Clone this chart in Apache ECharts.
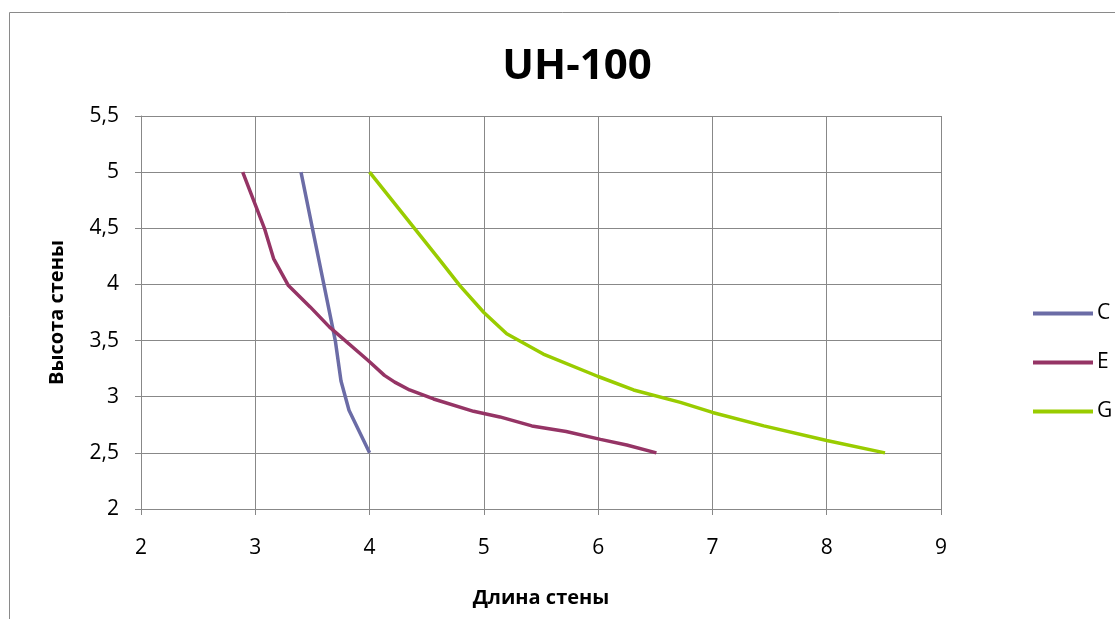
<!DOCTYPE html>
<html>
<head>
<meta charset="utf-8">
<script src="https://cdn.jsdelivr.net/npm/echarts@6/dist/echarts.min.js"></script>
<style>
  html, body { margin: 0; padding: 0; background: #fff; }
  #chart { width: 1115px; height: 619px; }
</style>
</head>
<body>
<div id="chart"></div>
<script>
// Wall length (x) against wall height (y) for three variants
const seriesNames = ['C', 'E', 'G'];
const seriesColors = ['#6B6CA6', '#953465', '#99CC00'];

const lengthC = [3.4, 3.5, 3.6, 3.7, 3.75, 3.82, 4.0];
const heightC = [5.0, 4.5, 4.0, 3.5, 3.14, 2.88, 2.5];

const lengthE = [2.89, 3.08, 3.16, 3.29, 3.48, 3.65, 3.99, 4.13, 4.22, 4.35, 4.56, 4.91, 5.14, 5.42, 5.72, 6.02, 6.25, 6.51];
const heightE = [5.0, 4.5, 4.23, 3.99, 3.8, 3.62, 3.32, 3.19, 3.13, 3.06, 2.98, 2.87, 2.82, 2.74, 2.69, 2.62, 2.57, 2.5];

const lengthG = [4.0, 4.4, 4.62, 4.79, 5.0, 5.2, 5.52, 6.0, 6.31, 6.72, 7.0, 7.45, 8.0, 8.51];
const heightG = [5.0, 4.49, 4.21, 3.99, 3.75, 3.56, 3.38, 3.18, 3.06, 2.95, 2.86, 2.74, 2.61, 2.5];

const titleText = 'UH-100';
const xAxisTitle = 'Длина стены';
const yAxisTitle = 'Высота стены';

const FONT = '"Open Sans", "Liberation Sans", sans-serif';
const GRID_COLOR = '#888888';

function pairs(xs, ys) {
  return xs.map((x, i) => [x, ys[i]]);
}

const seriesData = [pairs(lengthC, heightC), pairs(lengthE, heightE), pairs(lengthG, heightG)];

const chart = echarts.init(document.getElementById('chart'), null, { renderer: 'canvas' });

chart.setOption({
  animation: false,
  backgroundColor: '#ffffff',
  textStyle: { fontFamily: FONT },
  graphic: [{
    type: 'rect',
    left: 7, top: 10,
    shape: { x: 0.5, y: 0.5, width: 1200, height: 700 },
    style: { fill: 'none', stroke: '#8a8a8a', lineWidth: 1 },
    silent: true,
    z: -10
  }],
  title: {
    text: titleText,
    left: 572,
    textAlign: 'center',
    top: 41,
    textStyle: { fontFamily: FONT, fontWeight: 'bold', fontSize: 42, color: '#000' }
  },
  legend: {
    orient: 'vertical',
    left: 1033,
    top: 303,
    padding: 0,
    icon: 'rect',
    itemWidth: 60,
    itemHeight: 4,
    itemGap: 28,
    itemStyle: { borderWidth: 0 },
    data: seriesNames,
    textStyle: { fontFamily: FONT, fontSize: 21, color: '#000', lineHeight: 21, padding: [0, 0, 0, -1] }
  },
  grid: { left: 141, right: 174, top: 116, bottom: 110, containLabel: false },
  xAxis: {
    type: 'value',
    min: 2, max: 9, interval: 1,
    name: xAxisTitle,
    nameLocation: 'middle',
    nameGap: 79,
    nameTextStyle: { fontFamily: FONT, fontWeight: 'bold', fontSize: 20, color: '#000' },
    axisLine: { show: true, lineStyle: { color: GRID_COLOR, width: 1 } },
    axisTick: { show: true, length: 6, lineStyle: { color: GRID_COLOR } },
    axisLabel: { margin: 29, fontFamily: FONT, fontSize: 21, color: '#000' },
    splitLine: { show: true, lineStyle: { color: GRID_COLOR, width: 1 } }
  },
  yAxis: {
    type: 'value',
    min: 2, max: 5.5, interval: 0.5,
    name: yAxisTitle,
    nameLocation: 'middle',
    nameGap: 74,
    nameTextStyle: { fontFamily: FONT, fontWeight: 'bold', fontSize: 20, color: '#000' },
    axisLine: { show: true, lineStyle: { color: GRID_COLOR, width: 1 } },
    axisTick: { show: true, length: 6, lineStyle: { color: GRID_COLOR } },
    axisLabel: {
      margin: 22, fontFamily: FONT, fontSize: 21, color: '#000',
      formatter: v => String(v).replace('.', ',')
    },
    splitLine: { show: true, lineStyle: { color: GRID_COLOR, width: 1 } }
  },
  series: seriesNames.map((name, i) => ({
    name: name,
    type: 'line',
    data: seriesData[i],
    symbol: 'none',
    smooth: false,
    color: seriesColors[i],
    lineStyle: { color: seriesColors[i], width: 3.5 }
  }))
});
</script>
</body>
</html>
